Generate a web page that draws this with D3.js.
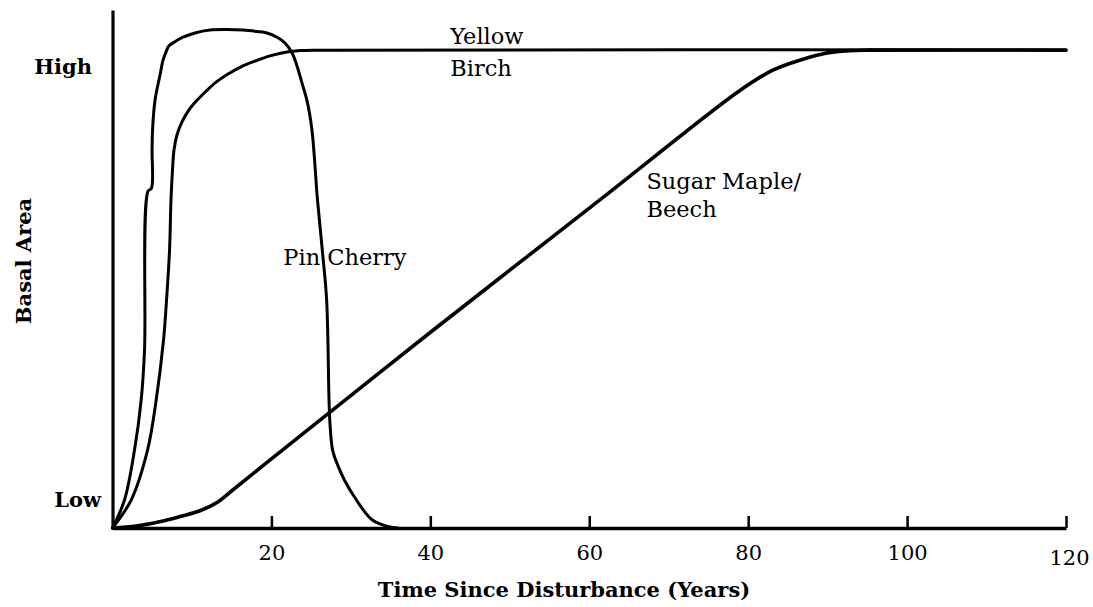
<!DOCTYPE html>
<html>
<head>
<meta charset="utf-8">
<script src="https://cdn.jsdelivr.net/npm/d3@7"></script>
<style>
  html, body { margin: 0; padding: 0; background: #fff; }
  svg { display: block; }
  text { font-family: "DejaVu Serif", "Liberation Serif", serif; fill: #000; }
</style>
</head>
<body>
<svg id="chart" width="1093" height="607"></svg>
<script>
// ---- data (years since disturbance, relative basal area: 0 = Low, 100 = High) ----
const xTicks = [20, 40, 60, 80, 100, 120];
const yLabels = ["Low", "High"];
const yLabelValues = [0, 100];

const pinCherry = [
  [0,0],[1.51,5.86],[2.77,16.3],[3.61,26.8],[4.03,37.2],[4.47,70.5],[4.9,71.1],
  [4.98,79.1],[5.04,83.3],[5.35,89.5],[5.98,94.8],[6.36,97.9],[6.73,99.6],[7.11,100.9],
  [7.99,101.9],[8.87,102.7],[10.38,103.6],[12.27,104.2],[14.41,104.3],[16.43,104.2],
  [18.19,103.9],[19.45,103.6],[20.71,102.7],[21.71,101.5],[22.6,99.4],[23.22,96.7],
  [23.85,93.1],[24.47,89.5],[25.1,83.3],[25.8,68.6],[26.4,58.2],[26.95,47.7],
  [27.25,26.8],[27.38,21.6],[27.7,16.3],[28.38,13.0],[29.2,10.0],
  [30.7,5.86],[32.7,1.67],[34.9,0.2],[35.9,0]
];
const yellowBirch = [
  [0,0],[2.36,5.9],[4.41,16.3],[5.5,26.8],[6.42,39.3],[6.8,47.7],[7.18,58.2],
  [7.36,68.6],[7.55,74.9],[7.74,79.1],[8.12,82.3],[8.75,85.0],[9.63,87.5],
  [10.63,89.5],[11.77,91.4],[13.03,93.3],[14.54,95.0],[16.17,96.5],[17.93,97.7],
  [19.82,98.8],[21.96,99.6],[23.6,99.9],[25.48,100],[120,100]
];
const sugarMapleBeech = [
  [0,0],[3,0.4],[5.9,1.3],[8.5,2.4],[11,3.6],[13.2,5.4],[15.1,7.9],[19.8,14.2],
  [39.9,40.8],[61.3,68.6],[79,91.6],[83.1,95.8],[86.5,97.9],[89.9,99.4],
  [92.8,99.9],[95.3,100],[120,100]
];
const seriesLabels = [
  {lines: ["Yellow", "Birch"], at: [42.5, 100]},
  {lines: ["Pin Cherry"], at: [21.5, 55]},
  {lines: ["Sugar Maple/", "Beech"], at: [67.2, 71]}
];
const xTitle = "Time Since Disturbance (Years)";
const yTitle = "Basal Area";

// ---- layout ----
const svg = d3.select("#chart");
const x = d3.scaleLinear().domain([0, 120]).range([112.5, 1066]);
const y = d3.scaleLinear().domain([0, 108.4]).range([528, 10]);

const line = d3.line()
  .x(d => x(d[0])).y(d => y(d[1]))
  .curve(d3.curveCatmullRom.alpha(0.5));

// curves
svg.append("path").datum(sugarMapleBeech)
  .attr("d", line).attr("fill", "none").attr("stroke", "#000")
  .attr("stroke-width", 3.6).attr("stroke-linejoin", "round").attr("stroke-linecap", "round");
svg.append("path").datum(yellowBirch)
  .attr("d", line).attr("fill", "none").attr("stroke", "#000")
  .attr("stroke-width", 3).attr("stroke-linejoin", "round").attr("stroke-linecap", "round");
svg.append("path").datum(pinCherry)
  .attr("d", line).attr("fill", "none").attr("stroke", "#000")
  .attr("stroke-width", 3).attr("stroke-linejoin", "round").attr("stroke-linecap", "round");

// x axis
const xAxis = d3.axisBottom(x).tickValues(xTicks)
  .tickSizeInner(-12).tickSizeOuter(0).tickPadding(17)
  .tickFormat(d3.format("d"));
const gx = svg.append("g").attr("transform", `translate(0,${y(0)})`).call(xAxis);
gx.select(".domain").attr("stroke", "#000").attr("stroke-width", 3.5);
gx.selectAll(".tick line").attr("stroke", "#000").attr("stroke-width", 2.5);
gx.selectAll(".tick text")
  .attr("font-family", "DejaVu Serif").attr("font-size", 21).attr("fill", "#000")
  .attr("dy", d => d === 120 ? "0.95em" : "0.71em")
  .attr("dx", d => d === 120 ? 3 : 0);

// y axis
const gy = svg.append("g").attr("transform", `translate(${x(0)},0)`)
  .call(d3.axisLeft(y).tickValues([]).tickSizeOuter(0));
gy.select(".domain").attr("stroke", "#000").attr("stroke-width", 3.2);

// y category labels
svg.selectAll("text.ylab").data(yLabelValues).enter().append("text")
  .attr("class", "ylab")
  .attr("x", (d, i) => i === 0 ? 101 : 92)
  .attr("y", (d, i) => i === 0 ? y(d) - 21.5 : y(d) + 24)
  .attr("text-anchor", "end")
  .attr("font-size", 21).attr("font-weight", "bold")
  .text((d, i) => yLabels[i]);

// series labels
seriesLabels.forEach(s => {
  const t = svg.append("text")
    .attr("x", x(s.at[0])).attr("y", y(s.at[1]))
    .attr("font-size", 22.5);
  s.lines.forEach((ln, i) => {
    t.append("tspan").attr("x", x(s.at[0]))
      .attr("dy", i === 0 ? (s.lines[0] === "Yellow" ? -6 : 0) : (s.lines[0] === "Yellow" ? 32 : 28))
      .text(ln);
  });
});

// axis titles
svg.append("text")
  .attr("x", 564).attr("y", 597)
  .attr("text-anchor", "middle")
  .attr("font-size", 21).attr("font-weight", "bold")
  .text(xTitle);
svg.append("text")
  .attr("transform", "translate(31,261) rotate(-90)")
  .attr("text-anchor", "middle")
  .attr("font-size", 21).attr("font-weight", "bold")
  .text(yTitle);
</script>
</body>
</html>
